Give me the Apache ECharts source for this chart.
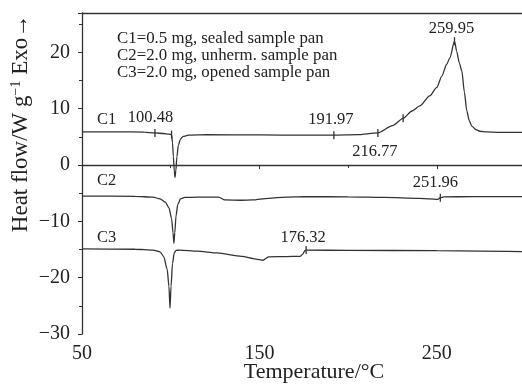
<!DOCTYPE html>
<html>
<head>
<meta charset="utf-8">
<script src="https://cdn.jsdelivr.net/npm/echarts@6/dist/echarts.min.js"></script>
<style>
  html, body { margin: 0; padding: 0; background: #fff; }
  #chart { width: 522px; height: 385px; }
</style>
</head>
<body>
<div id="chart"></div>
<script>
// DSC thermograms: temperature (°C) and heat flow (W/g) for three runs
const c1Temp = [50, 70, 85, 91.1, 96, 99, 100.48, 101, 101.5, 102, 102.4, 102.9, 103.5, 104.3, 105.5, 107, 110, 120, 150, 175, 191.97, 205, 216.77, 225, 231, 236, 240.4, 246, 250, 252.8, 255.6, 257.3, 259.95, 261.2, 262.6, 264.1, 265.5, 266.9, 268.3, 269.7, 272, 274.2, 278, 285, 300];
const c1Flow = [5.9, 5.9, 5.85, 5.7, 5.6, 5.5, 5.4, 4.0, 1.5, -1.0, -2.2, -1.0, 1.5, 3.5, 4.6, 5.1, 5.3, 5.4, 5.35, 5.3, 5.3, 5.4, 5.7, 7.0, 8.3, 9.6, 10.5, 12.3, 13.8, 15.8, 17.9, 19.0, 22.0, 20.2, 18.2, 16.7, 13.0, 9.6, 7.9, 6.9, 6.3, 6.0, 5.9, 5.8, 5.8];

const c2Temp = [50, 80, 90, 94, 97, 99, 100.5, 101.3, 101.8, 102.3, 103, 104, 105.5, 108, 115, 127, 130.5, 140, 146, 155, 165, 175, 200, 220, 240, 246, 250.5, 251.96, 254, 270, 300];
const c2Flow = [-5.5, -5.55, -5.7, -6.0, -6.6, -7.6, -9.5, -12.0, -13.9, -12.0, -9.0, -7.0, -6.0, -5.75, -5.7, -5.7, -6.2, -6.25, -6.2, -5.9, -5.7, -5.6, -5.65, -5.75, -5.9, -6.0, -6.1, -5.8, -5.65, -5.6, -5.6];

const c3Temp = [50, 80, 90, 94, 96, 98, 99, 99.6, 100.2, 101, 102, 103, 105, 115, 126, 140, 148, 152, 153.5, 155, 165, 173, 174.5, 175.6, 176.32, 200, 250, 300];
const c3Flow = [-14.9, -14.95, -15.1, -15.4, -16.2, -18.5, -21.5, -25.4, -21.5, -17.5, -15.6, -15.15, -15.1, -15.3, -15.6, -16.2, -16.7, -16.9, -16.6, -16.3, -16.25, -16.2, -15.8, -15.2, -15.1, -15.15, -15.2, -15.4];

// Marked temperatures on each curve (labelled ones show their value)
const c1Marks = [[91.1, 5.7, false], [100.48, 5.4, true], [191.97, 5.3, true], [216.77, 5.7, true], [231, 8.3, false], [259.95, 22.0, true]];
const c2Marks = [[251.96, -5.8, true]];
const c3Marks = [[176.32, -15.1, true]];

const curveNames = ['C1', 'C2', 'C3'];
const legendLines = [
  'C1=0.5 mg, sealed sample pan',
  'C2=2.0 mg, unherm. sample pan',
  'C3=2.0 mg, opened sample pan'
];

const FONT = '"Liberation Serif", "Times New Roman", serif';
const INK = '#222';

function zip(xs, ys) { return xs.map((x, i) => [x, ys[i]]); }

// label placement per marked temperature: [position, dx, dy]
const labelPlace = {
  '100.48': ['top', -21, 1],
  '191.97': ['top', -3, 2],
  '216.77': ['bottom', -3, 1],
  '259.95': ['top', -3, 5],
  '251.96': ['top', -5, 2],
  '176.32': ['top', -3, 5]
};

function marks(list) {
  return {
    silent: true,
    symbol: 'rect',
    symbolSize: [1.3, 8],
    itemStyle: { color: '#333' },
    animation: false,
    data: list.map(([t, q, show]) => {
      const p = labelPlace[t.toFixed(2)] || ['top', 0, 0];
      return {
        coord: [t, q],
        label: show ? {
          show: true,
          formatter: t.toFixed(2),
          position: p[0],
          distance: 5,
          offset: [p[1], p[2]],
          color: INK,
          fontFamily: FONT,
          fontSize: 16.5
        } : { show: false }
      };
    })
  };
}

function curve(name, xs, ys, mk) {
  return {
    name: name,
    type: 'line',
    data: zip(xs, ys),
    showSymbol: false,
    smooth: 0.25,
    smoothMonotone: 'x',
    lineStyle: { color: '#333', width: 1.3 },
    animation: false,
    markPoint: marks(mk)
  };
}

const chart = echarts.init(document.getElementById('chart'), null, { renderer: 'canvas' });

const axisInk = { color: '#333', width: 1.3 };

const option = {
  backgroundColor: '#fff',
  animation: false,
  grid: { left: 82, top: 13, right: 0, bottom: 51, show: false, containLabel: false, outerBoundsMode: 'none' },
  xAxis: [{
    type: 'value',
    min: 50, max: 298, interval: 100,
    name: 'Temperature/°C',
    nameLocation: 'middle',
    nameMoveOverlap: false,
    nameGap: 27,
    nameTextStyle: { color: INK, fontFamily: FONT, fontSize: 22, padding: [0, 0, 0, 24] },
    axisLine: { show: true, lineStyle: axisInk },
    axisTick: { show: true, length: 4, lineStyle: { color: '#333' } },
    minorTick: { show: true, splitNumber: 2, length: 3, lineStyle: { color: '#333' } },
    splitLine: { show: false },
    axisLabel: {
      color: INK, fontFamily: FONT, fontSize: 20, margin: 10,
      formatter: v => ([50, 150, 250].includes(v) ? String(v) : '')
    }
  }, {
    // top frame line
    type: 'value', position: 'top',
    min: 50, max: 298,
    axisLine: { show: true, onZero: false, lineStyle: axisInk },
    axisTick: { show: false }, axisLabel: { show: false }, splitLine: { show: false }
  }],
  yAxis: {
    type: 'value',
    min: -30, max: 27, interval: 10,
    name: 'Heat flow/W g{sup|−1} Exo→',
    nameLocation: 'middle',
    nameMoveOverlap: false,
    nameRotate: 90,
    nameGap: 49,
    nameTextStyle: {
      color: INK, fontFamily: FONT, fontSize: 23,
      padding: [0, 0, 0, 100],
      rich: { sup: { fontFamily: FONT, fontSize: 14, verticalAlign: 'top', color: INK, padding: [0, 0, 10, 0] } }
    },
    axisLine: { show: true, lineStyle: axisInk },
    axisTick: { show: true, length: 4, lineStyle: { color: '#333' } },
    minorTick: { show: true, splitNumber: 2, length: 3, lineStyle: { color: '#333' } },
    splitLine: { show: false },
    axisLabel: {
      color: INK, fontFamily: FONT, fontSize: 20, margin: 12,
      formatter: v => (v % 10 === 0 ? String(v).replace('-', '−') : '')
    }
  },
  series: [
    curve('C1', c1Temp, c1Flow, c1Marks),
    curve('C2', c2Temp, c2Flow, c2Marks),
    curve('C3', c3Temp, c3Flow, c3Marks)
  ],
  graphic: [
    ...legendLines.map((t, i) => ({
      type: 'text', left: 117, top: 30 + i * 17,
      scaleX: 1.02,
      style: { text: t, fill: INK, font: '16.5px ' + FONT }
    })),
    ...curveNames.map((t, i) => ({
      type: 'text', left: 97, top: [111, 172, 229][i],
      style: { text: t, fill: INK, font: '16.5px ' + FONT }
    }))
  ]
};

chart.setOption(option);
</script>
</body>
</html>
